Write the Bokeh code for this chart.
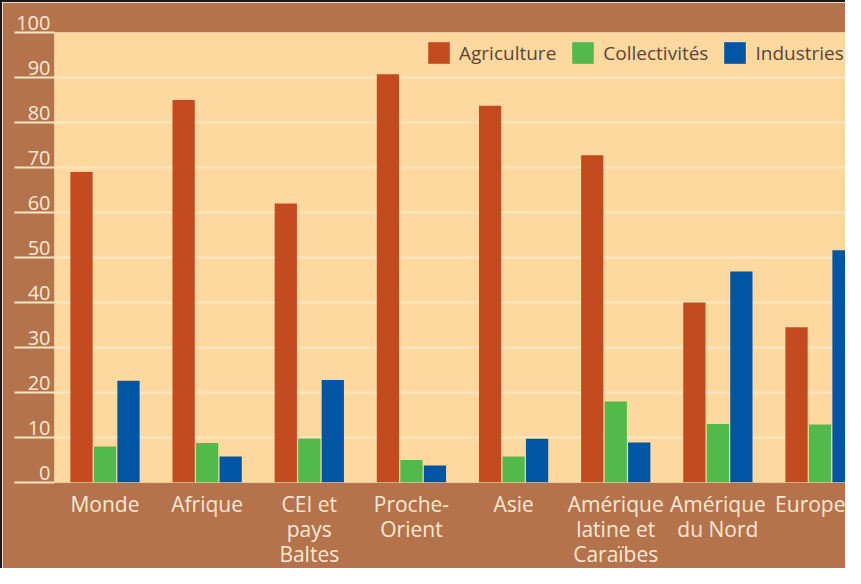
from bokeh.plotting import figure
from bokeh.models import Legend, LegendItem, FixedTicker, ColumnDataSource, Range1d
from bokeh.transform import dodge
from bokeh.embed import file_html
from bokeh.resources import INLINE

regions = ["Monde", "Afrique", "CEI et\npays\nBaltes", "Proche-\nOrient", "Asie",
           "Amérique\nlatine et\nCaraïbes", "Amérique\ndu Nord", "Europe"]
agriculture = [69, 85, 62, 90.7, 83.7, 72.7, 40, 34.5]
collectivites = [8, 8.8, 9.8, 5, 5.8, 18, 13, 12.9]
industries = [22.6, 5.8, 22.8, 3.8, 9.7, 8.9, 46.9, 51.6]
series_names = ["Agriculture", "Collectivités", "Industries"]
y_ticks = list(range(0, 101, 10))

BROWN = "#b4734b"
PEACH = "#fdd9a0"
GRID = "#fde8c6"
LABEL = "#fce8d6"
COLORS = ["#c44b1f", "#52b94b", "#0055a5"]
FONT = "Open Sans"

positions = [i + 1 for i in range(len(regions))]
src = ColumnDataSource(dict(x=positions, agri=agriculture, coll=collectivites, ind=industries))

p = figure(width=845, height=568,
           x_range=Range1d(0.5056, 8.269), y_range=Range1d(0, 100),
           output_backend="svg", toolbar_location=None,
           min_border_left=52, min_border_right=0, min_border_top=30, min_border_bottom=85)
p.background_fill_color = PEACH
p.border_fill_color = BROWN
p.outline_line_color = None
p.styles = {"border-left": "2px solid #1a1a1a", "border-top": "2px solid #1a1a1a",
            "box-sizing": "border-box"}

off = 0.23
w = 0.218
r1 = p.vbar(x=dodge("x", -off, range=p.x_range), top="agri", width=w, source=src,
            fill_color=COLORS[0], line_color=None)
r2 = p.vbar(x=dodge("x", 0, range=p.x_range), top="coll", width=w, source=src,
            fill_color=COLORS[1], line_color=None)
r3 = p.vbar(x=dodge("x", off, range=p.x_range), top="ind", width=w, source=src,
            fill_color=COLORS[2], line_color=None)

# grid
p.xgrid.grid_line_color = None
p.ygrid.grid_line_color = GRID
p.ygrid.grid_line_width = 2

# y axis
ya = p.yaxis[0]
ya.ticker = FixedTicker(ticks=y_ticks)
ya.major_label_overrides = {t: f"{t}\n " for t in y_ticks}
ya.axis_line_color = None
ya.minor_tick_line_color = None
ya.major_tick_in = 0
ya.major_tick_out = 40
ya.major_tick_line_color = GRID
ya.major_tick_line_width = 2
ya.major_label_standoff = -36
ya.major_label_text_color = LABEL
ya.major_label_text_font = FONT
ya.major_label_text_font_size = "20px"
ya.major_label_text_line_height = 0.77

# x axis
xa = p.xaxis[0]
xa.ticker = FixedTicker(ticks=positions)
xa.major_label_overrides = {pos: lab for pos, lab in zip(positions, regions)}
xa.axis_line_color = None
xa.minor_tick_line_color = None
xa.major_tick_line_color = None
xa.major_tick_in = 0
xa.major_tick_out = 0
xa.major_label_standoff = 7
xa.major_label_text_color = LABEL
xa.major_label_text_font = FONT
xa.major_label_text_font_size = "21px"
xa.major_label_text_line_height = 0.9

legend = Legend(items=[LegendItem(label=series_names[0], renderers=[r1]),
                       LegendItem(label=series_names[1], renderers=[r2]),
                       LegendItem(label=series_names[2], renderers=[r3])],
                orientation="horizontal", location=(371, 416),
                background_fill_alpha=0, border_line_color=None,
                padding=0, margin=0, spacing=13, label_standoff=7,
                glyph_width=27, glyph_height=27, label_height=27,
                label_text_font=FONT, label_text_font_size="19px",
                label_text_color="#5b4636")
p.add_layout(legend)

open("out.html", "w").write(file_html(p, INLINE))
